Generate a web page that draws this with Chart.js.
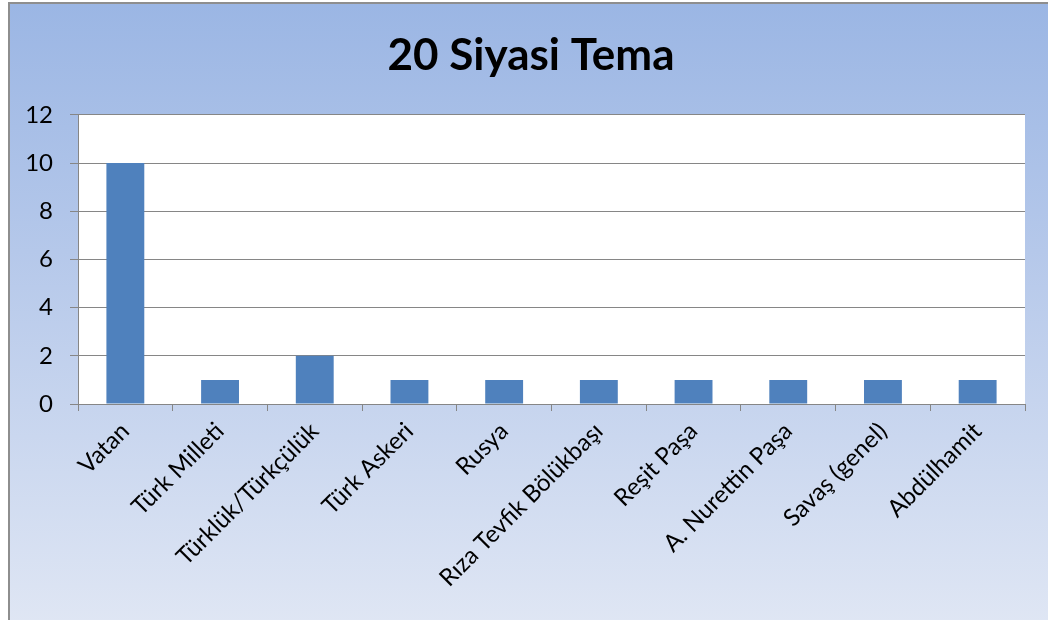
<!DOCTYPE html>
<html>
<head>
<meta charset="utf-8">
<script src="https://cdn.jsdelivr.net/npm/chart.js@4/dist/chart.umd.min.js"></script>
<style>
  html, body { margin: 0; padding: 0; width: 1048px; height: 620px; overflow: hidden; background: #fff; }
  #panel {
    position: absolute; left: 8px; top: 2px; width: 1040px; height: 618px;
    border-left: 2px solid #8e8e8e; border-top: 2px solid #8e8e8e;
    background: linear-gradient(to bottom, #9bb6e4 0%, #b5c8ea 40%, #dfe6f4 100%);
  }
  #wrap { position: absolute; left: 0; top: 0; width: 1054px; height: 620px; }
</style>
</head>
<body>
<div id="panel"></div>
<!-- canvas a little wider than the window so the title centres on the panel -->
<div id="wrap"><canvas id="bar-chart" width="1054" height="620"></canvas></div>
<script>
var categories = ['Vatan', 'Türk Milleti', 'Türklük/Türkçülük', 'Türk Askeri', 'Rusya',
    'Rıza Tevfik Bölükbaşı', 'Reşit Paşa', 'A. Nurettin Paşa', 'Savaş (genel)', 'Abdülhamit'];
var counts = [10, 1, 2, 1, 1, 1, 1, 1, 1, 1];
var yTicks = [0, 2, 4, 6, 8, 10, 12];

// white plot area
var plotBg = {
    id: 'plotBg',
    beforeDraw: function (chart) {
        var a = chart.chartArea, ctx = chart.ctx;
        ctx.save();
        ctx.fillStyle = '#ffffff';
        ctx.fillRect(a.left, a.top, a.right - a.left, a.bottom - a.top);
        ctx.restore();
    }
};

new Chart(document.getElementById("bar-chart"), {
    type: 'bar',
    data: {
        labels: categories,
        datasets: [{
            label: "20 Siyasi Tema",
            data: counts,
            backgroundColor: '#4f81bd',
            borderWidth: 0,
            categoryPercentage: 1,
            barPercentage: 0.4
        }]
    },
    options: {
        responsive: false,
        animation: false,
        devicePixelRatio: 1,
        layout: { padding: { left: 8, right: 0, top: 0, bottom: 0 } },
        plugins: {
            legend: { display: false },
            tooltip: { enabled: false },
            title: {
                display: true,
                text: '20 Siyasi Tema',
                color: '#000',
                font: { family: 'Lato', size: 44, weight: 'bold' },
                padding: { top: 29, bottom: 33 }
            }
        },
        scales: {
            x: {
                grid: { offset: true, drawOnChartArea: false, drawTicks: true, tickLength: 7, color: '#868686' },
                border: { color: '#868686', width: 1 },
                ticks: {
                    color: '#000', minRotation: 45, maxRotation: 45, autoSkip: false, padding: 6,
                    font: { family: 'Lato', size: 24 }
                },
                afterFit: function (s) { s.height = 216; }
            },
            y: {
                min: 0, max: 12,
                afterBuildTicks: function (s) { s.ticks = yTicks.map(function (v) { return { value: v }; }); },
                grid: { color: '#868686', tickLength: 8 },
                border: { color: '#868686', width: 1 },
                ticks: { color: '#000', padding: 17, font: { family: 'Lato', size: 24 } },
                afterFit: function (s) { s.width = 70; }
            },
            // empty spacer on the right
            yRight: {
                position: 'right',
                grid: { display: false },
                border: { display: false },
                ticks: { display: false },
                afterFit: function (s) { s.width = 29; }
            }
        }
    },
    plugins: [plotBg]
});
</script>
</body>
</html>
